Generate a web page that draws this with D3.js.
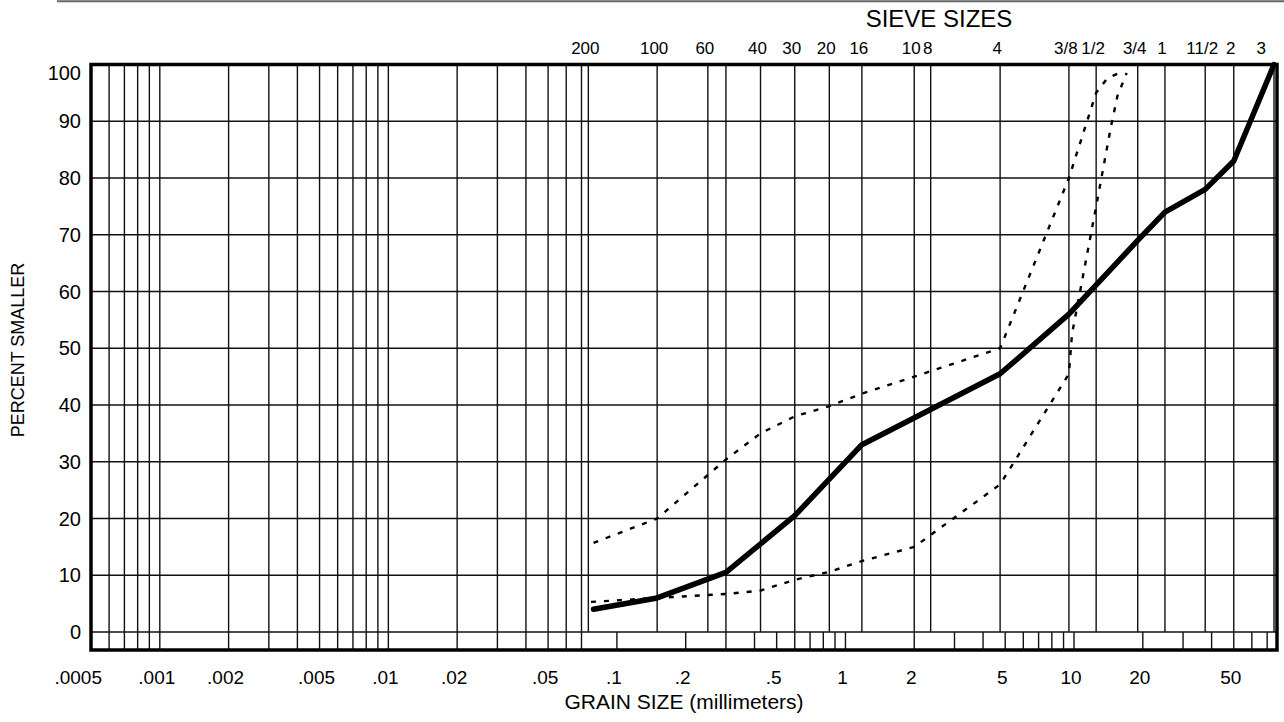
<!DOCTYPE html>
<html>
<head>
<meta charset="utf-8">
<script src="https://cdn.jsdelivr.net/npm/d3@7"></script>
<style>
  html, body { margin: 0; padding: 0; background: #fff; }
  svg { display: block; }
  text { font-family: "Liberation Sans", Arial, Helvetica, sans-serif; fill: #000; }
</style>
</head>
<body>
<svg id="chart" width="1284" height="722"></svg>
<script>
// ---------------- data ----------------
const grainTickValues = [0.0005, 0.001, 0.002, 0.005, 0.01, 0.02, 0.05, 0.1, 0.2, 0.5, 1, 2, 5, 10, 20, 50];
const grainTickLabels = [".0005", ".001", ".002", ".005", ".01", ".02", ".05", ".1", ".2", ".5", "1", "2", "5", "10", "20", "50"];

const sieveLabels   = ["200", "100", "60", "40", "30", "20", "16", "10", "8", "4", "3/8", "1/2", "3/4", "1", "11/2", "2", "3"];
const sieveOpeningMm = [0.075, 0.15, 0.25, 0.425, 0.6, 0.85, 1.18, 2.0, 2.36, 4.75, 9.5, 12.5, 19, 25, 37.5, 50, 75];
const sieveGridMm   = [0.075, 0.15, 0.25, 0.3, 0.425, 0.6, 0.85, 1.18, 2.0, 2.36, 4.75, 9.5, 12.5, 19, 25, 37.5, 50, 75];

const percentTicks = [0, 10, 20, 30, 40, 50, 60, 70, 80, 90, 100];

// gradation curve (solid)
const sampleSizeMm = [0.079, 0.15, 0.3, 0.6, 1.18, 4.75, 9.5, 19, 25, 37.5, 50, 75];
const samplePct    = [4, 6, 10.5, 20.5, 33, 45.5, 56, 69, 74, 78, 83, 100];

// upper specification limit (dashed)
const upperSizeMm = [0.079, 0.15, 0.3, 0.425, 0.6, 0.85, 1.18, 2, 4.75, 9.5, 12.5, 14, 16];
const upperPct    = [15.7, 20, 30.4, 35, 38, 39.8, 42, 45, 50, 80, 95, 97.6, 98.6];

// lower specification limit (dashed)
const lowerSizeMm = [0.077, 0.15, 0.3, 0.425, 0.6, 0.85, 1.18, 2, 4.75, 9.5, 9.8, 12.5, 14.5, 15.5, 17];
const lowerPct    = [5.3, 6, 6.7, 7.3, 9.2, 10.6, 12.5, 15, 26, 45.5, 52.5, 75, 89, 94.5, 98.5];

// ---------------- layout ----------------
const svg = d3.select("#chart");
const x = d3.scaleLog().domain([0.0005, 75]).range([91, 1274]);
const y = d3.scaleLinear().domain([0, 100]).range([632, 64.5]);
const frameLeft = 91, frameRight = 1277, frameTop = y(100), frameBottom = 650;
const eps = 1e-9;

// header rule at very top (scan)
svg.append("line").attr("x1", 57).attr("x2", 1284).attr("y1", 1.2).attr("y2", 1.2)
  .attr("stroke", "#666").attr("stroke-width", 2);

const grid = svg.append("g").attr("stroke", "#111").attr("stroke-width", 1.4);

// horizontal grid lines
grid.selectAll("line.h").data(percentTicks.filter(p => p < 100)).join("line")
  .attr("class", "h")
  .attr("x1", frameLeft).attr("x2", frameRight)
  .attr("y1", d => y(d)).attr("y2", d => y(d));

// log minor grid from the scale
const logTicks = x.ticks();
grid.selectAll("line.fine").data(logTicks.filter(v => v > 0.0005 + eps && v < 0.075 - eps)).join("line")
  .attr("class", "fine")
  .attr("x1", d => x(d)).attr("x2", d => x(d))
  .attr("y1", frameTop).attr("y2", frameBottom);
grid.selectAll("line.strip").data(logTicks.filter(v => v >= 0.1 - eps)).join("line")
  .attr("class", "strip")
  .attr("x1", d => x(d)).attr("x2", d => x(d))
  .attr("y1", y(0)).attr("y2", frameBottom);
grid.selectAll("line.sieve").data(sieveGridMm).join("line")
  .attr("class", "sieve")
  .attr("x1", d => x(d)).attr("x2", d => x(d))
  .attr("y1", frameTop).attr("y2", y(0));

// frame
svg.append("rect")
  .attr("x", frameLeft).attr("y", frameTop)
  .attr("width", frameRight - frameLeft).attr("height", frameBottom - frameTop)
  .attr("fill", "none").attr("stroke", "#000").attr("stroke-width", 3.5);

// curves
const line = d3.line().x(d => x(d[0])).y(d => y(d[1]));
const toPts = (xs, ys) => xs.map((v, i) => [v, ys[i]]);

svg.append("path").datum(toPts(upperSizeMm, upperPct))
  .attr("d", line).attr("fill", "none").attr("stroke", "#000")
  .attr("stroke-width", 2.4).attr("stroke-dasharray", "5,8");
svg.append("path").datum(toPts(lowerSizeMm, lowerPct))
  .attr("d", line).attr("fill", "none").attr("stroke", "#000")
  .attr("stroke-width", 2.4).attr("stroke-dasharray", "5,8");
svg.append("path").datum(toPts(sampleSizeMm, samplePct))
  .attr("d", line).attr("fill", "none").attr("stroke", "#000")
  .attr("stroke-width", 5.5).attr("stroke-linejoin", "round").attr("stroke-linecap", "round");

// y axis labels
svg.append("g").selectAll("text").data(percentTicks).join("text")
  .attr("x", 81)
  .attr("y", d => Math.max(y(d) + 7, frameTop + 15))
  .attr("text-anchor", "end")
  .attr("font-size", 20)
  .text(d => d);

// bottom grain size labels
svg.append("g").selectAll("text").data(grainTickValues).join("text")
  .attr("x", (d, i) => i === 0 ? x(d) + 11 : x(d) - 3)
  .attr("y", 684)
  .attr("text-anchor", (d, i) => i === 0 ? "end" : "middle")
  .attr("font-size", 19)
  .text((d, i) => grainTickLabels[i]);

// sieve labels
svg.append("g").selectAll("text").data(sieveOpeningMm).join("text")
  .attr("x", (d, i) => i === sieveOpeningMm.length - 1 ? x(d) - 8 : x(d) - 3)
  .attr("y", 54)
  .attr("text-anchor", (d, i) => i === sieveOpeningMm.length - 1 ? "end" : "middle")
  .attr("font-size", 17)
  .text((d, i) => sieveLabels[i]);

// titles
svg.append("text").attr("x", 939).attr("y", 27).attr("text-anchor", "middle")
  .attr("font-size", 24).text("SIEVE SIZES");
svg.append("text").attr("x", (frameLeft + frameRight) / 2).attr("y", 709).attr("text-anchor", "middle")
  .attr("font-size", 21).text("GRAIN SIZE (millimeters)");
svg.append("text").attr("transform", "translate(24,350) rotate(-90)").attr("text-anchor", "middle")
  .attr("font-size", 18).text("PERCENT SMALLER");
</script>
</body>
</html>
